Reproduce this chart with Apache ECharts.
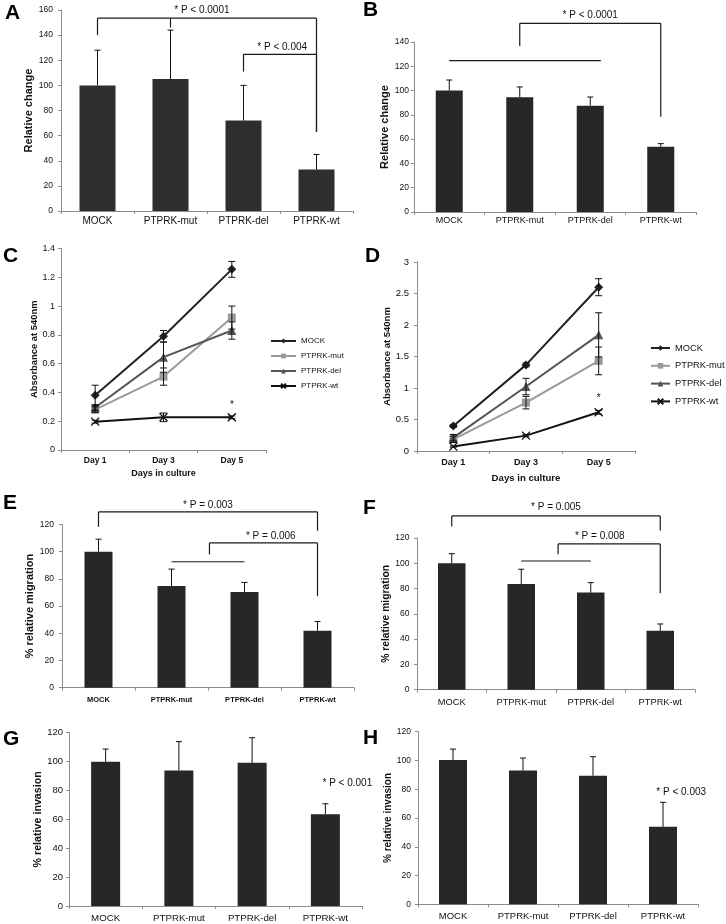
<!DOCTYPE html>
<html><head><meta charset="utf-8">
<script src="https://cdn.jsdelivr.net/npm/echarts@6/dist/echarts.min.js"></script>
<style>html,body{margin:0;padding:0;background:#fff}#c{width:726px;height:924px}</style>
</head><body><div id="c"></div>
<script>
// ---------- DATA ----------
const categories = ['MOCK', 'PTPRK-mut', 'PTPRK-del', 'PTPRK-wt'];
const days = ['Day 1', 'Day 3', 'Day 5'];
const lineNames = ['MOCK', 'PTPRK-mut', 'PTPRK-del', 'PTPRK-wt'];

// A
const aMean = [100, 105, 72, 33];
const aErr = [28, 39, 28, 12];
const aBrackets = [[0, 3, 153.5, 140, 63], [2, 3, 124.7, 111, 63]]; // x1, x2, top, leftEnd, rightEnd
const aTicks = [[1, 153.5, 146]];
const aLines = [];
const aNotes = [[1.43, 160, '* P < 0.0001'], [2.53, 130.6, '* P < 0.004']];
// B
const bMean = [100, 94.5, 87.6, 53.8];
const bErr = [8.7, 8.5, 7.1, 2.5];
const bBrackets = [[1, 3, 155.4, 136.7, 78.5]];
const bTicks = [];
const bLines = [[0, 2.15, 124.6]];
const bNotes = [[2, 162, '* P < 0.0001']];
// C
const cMock = [0.38, 0.79, 1.255], cMockErr = [0.07, 0.04, 0.055];
const cMut = [0.28, 0.51, 0.92], cMutErr = [0.02, 0.06, 0.08];
const cDel = [0.295, 0.645, 0.83], cDelErr = [0.02, 0.105, 0.06];
const cWt = [0.197, 0.227, 0.227], cWtErr = [0.01, 0.03, 0.01];
const cNotes = [[2, 0.31, '*']];
// D
const dMock = [0.397, 1.367, 2.6], dMockErr = [0.02, 0.03, 0.135];
const dMut = [0.185, 0.768, 1.43], dMutErr = [0.05, 0.1, 0.22];
const dDel = [0.212, 1.023, 1.844], dDelErr = [0.05, 0.13, 0.35];
const dWt = [0.07, 0.244, 0.615], dWtErr = [0.01, 0.02, 0.03];
const dNotes = [[2, 0.84, '*']];
// E
const eMean = [100, 74.7, 70.3, 41.9];
const eErr = [9.2, 12.5, 7.1, 6.8];
const eBrackets = [[0, 3, 129.3, 118.3, 115.4], [1.52, 3, 106.5, 98, 67.3]];
const eLines = [[1, 2, 92.6]];
const eNotes = [[1.5, 134.2, '* P = 0.003'], [2.36, 111.5, '* P = 0.006']];
// F
const fMean = [100, 83.6, 76.8, 46.7];
const fErr = [7.6, 11.7, 7.9, 5.3];
const fBrackets = [[0, 3, 137.5, 129, 125.9], [1.53, 3, 115.3, 107.1, 76.3]];
const fLines = [[1, 2, 101.8]];
const fNotes = [[1.5, 144, '* P = 0.005'], [2.13, 121.6, '* P = 0.008']];
// G
const gMean = [99.9, 93.9, 99.2, 63.5];
const gErr = [8.8, 19.9, 17.3, 7.3];
const gNotes = [[3.3, 85, '* P < 0.001']];
// H
const hMean = [100.3, 93.1, 89.4, 54];
const hErr = [7.6, 8.6, 13.2, 16.9];
const hNotes = [[3.26, 77.8, '* P < 0.003']];

// ---------- STYLE / LAYOUT ----------
const FF = 'Liberation Sans, Arial, sans-serif';
const AX = '#8c8c8c';
const TXT = '#111';
const BAR = '#272727';

const grids = [], xAxes = [], yAxes = [], series = [];

function xy(api, x, y) {
  const i = Math.floor(x);
  const p = api.coord([i, y]);
  return [p[0] + (x - i) * api.size([1, 0])[0], p[1]];
}
function ln(a, b, w, c) {
  return {type: 'line', shape: {x1: a[0], y1: a[1], x2: b[0], y2: b[1]}, style: {stroke: c || '#1a1a1a', lineWidth: w || 1.2}};
}

function addAxes(idx, L, o) {
  grids.push({left: L.left, top: L.top, width: L.width, height: L.height, outerBoundsMode: 'none', containLabel: false});
  xAxes.push({
    gridIndex: idx, type: 'category', data: o.cats,
    axisLine: {show: true, lineStyle: {color: AX, width: 1}},
    axisTick: {show: true, length: 3, lineStyle: {color: AX}},
    axisLabel: {interval: 0, fontSize: o.xfs, fontWeight: o.xfw || 'normal', margin: o.xm, color: TXT, fontFamily: FF},
    splitLine: {show: false},
    name: o.xname || '', nameLocation: 'middle', nameGap: o.xnameGap || 0,
    nameTextStyle: {fontSize: o.xnfs || 9, fontWeight: 'bold', color: TXT, fontFamily: FF}
  });
  yAxes.push({
    gridIndex: idx, type: 'value', min: 0, max: o.max, interval: o.interval,
    axisLine: {show: true, lineStyle: {color: AX, width: 1}},
    axisTick: {show: true, length: 3, lineStyle: {color: AX}},
    axisLabel: {fontSize: o.yfs, margin: o.ym, color: TXT, fontFamily: FF},
    splitLine: {show: false},
    name: o.yname, nameLocation: 'middle', nameRotate: 90, nameGap: o.ynameGap,
    nameTextStyle: {fontSize: o.ynfs, fontWeight: 'bold', color: TXT, fontFamily: FF}
  });
}

function addAnnotations(idx, brackets, ticks, lines, notes, noteFs) {
  series.push({
    type: 'custom', xAxisIndex: idx, yAxisIndex: idx, z: 5, silent: true,
    data: [[0, 0]],
    renderItem: function (params, api) {
      const ch = [];
      (brackets || []).forEach(function (b) {
        const tl = xy(api, b[0], b[2]), tr = xy(api, b[1], b[2]);
        ch.push(ln(xy(api, b[0], b[3]), tl));
        ch.push(ln(tl, tr));
        ch.push(ln(tr, xy(api, b[1], b[4])));
      });
      (ticks || []).forEach(function (t) {
        ch.push(ln(xy(api, t[0], t[1]), xy(api, t[0], t[2])));
      });
      (lines || []).forEach(function (l) {
        ch.push(ln(xy(api, l[0], l[2]), xy(api, l[1], l[2])));
      });
      (notes || []).forEach(function (n) {
        const p = xy(api, n[0], n[1]);
        ch.push({type: 'text', x: p[0], y: p[1], style: {text: n[2], fill: TXT, fontSize: noteFs, fontFamily: FF, align: 'center', verticalAlign: 'middle'}});
      });
      return {type: 'group', children: ch};
    }
  });
}

function addBarPanel(idx, L, means, errs, o) {
  addAxes(idx, L, Object.assign({cats: categories}, o));
  series.push({
    type: 'bar', xAxisIndex: idx, yAxisIndex: idx, data: means, barWidth: o.barWidth,
    itemStyle: {color: o.barColor || BAR}, silent: true
  });
  series.push({
    type: 'custom', xAxisIndex: idx, yAxisIndex: idx, z: 4, silent: true,
    data: means.map(function (m, i) { return [i, m, m + errs[i]]; }),
    renderItem: function (params, api) {
      const a = api.coord([api.value(0), api.value(1)]);
      const b = api.coord([api.value(0), api.value(2)]);
      return {type: 'group', children: [
        ln(a, b, 1, '#111'),
        ln([b[0] - 3, b[1]], [b[0] + 3, b[1]], 1, '#111')
      ]};
    }
  });
  addAnnotations(idx, o.brackets, o.ticks, o.lines, o.notes, o.noteFs || 10);
}

const lineStyles = [
  {color: '#222', symbol: 'diamond', size: 9},
  {color: '#9a9a9a', symbol: 'rect', size: 8},
  {color: '#555', symbol: 'triangle', size: 9},
  {color: '#111', symbol: 'path://M0,0L10,10M10,0L0,10', size: 8}
];

function addLinePanel(idx, L, vals, errs, o) {
  addAxes(idx, L, Object.assign({cats: days}, o));
  vals.forEach(function (v, s) {
    const st = lineStyles[s];
    series.push({
      type: 'line', name: lineNames[s], xAxisIndex: idx, yAxisIndex: idx, data: v,
      symbol: st.symbol, symbolSize: st.size, showSymbol: true, silent: true,
      lineStyle: {color: st.color, width: 2},
      itemStyle: {color: st.color, borderColor: st.color, borderWidth: s === 3 ? 1.3 : 0},
      z: 3 + (s === 1 ? 0 : 1)
    });
  });
  const pts = [];
  vals.forEach(function (v, s) { v.forEach(function (m, i) { pts.push([i, m - errs[s][i], m + errs[s][i]]); }); });
  series.push({
    type: 'custom', xAxisIndex: idx, yAxisIndex: idx, z: 6, silent: true,
    data: pts,
    renderItem: function (params, api) {
      const a = api.coord([api.value(0), api.value(1)]);
      const b = api.coord([api.value(0), api.value(2)]);
      return {type: 'group', children: [
        ln(a, b, 1, '#111'),
        ln([a[0] - 3.5, a[1]], [a[0] + 3.5, a[1]], 1, '#111'),
        ln([b[0] - 3.5, b[1]], [b[0] + 3.5, b[1]], 1, '#111')
      ]};
    }
  });
  addAnnotations(idx, [], [], [], o.notes, 10);
}

addBarPanel(0, {left: 61, top: 10, width: 292, height: 201}, aMean, aErr, {
  max: 160, interval: 20, xfs: 10, xm: 5, yfs: 8.5, ym: 8, yname: 'Relative change', ynfs: 11, ynameGap: 25,
  barWidth: 36, barColor: '#2e2e2e', brackets: aBrackets, ticks: aTicks, lines: aLines, notes: aNotes});
addBarPanel(1, {left: 414, top: 42, width: 282, height: 170}, bMean, bErr, {
  max: 140, interval: 20, xfs: 9, xm: 4, yfs: 8.5, ym: 5, yname: 'Relative change', ynfs: 11, ynameGap: 20,
  barWidth: 27, brackets: bBrackets, ticks: bTicks, lines: bLines, notes: bNotes});
addLinePanel(2, {left: 61, top: 248.5, width: 205, height: 201.5}, [cMock, cMut, cDel, cWt], [cMockErr, cMutErr, cDelErr, cWtErr], {
  max: 1.4, interval: 0.2, xfs: 8.5, xfw: 'bold', xm: 6, yfs: 9, ym: 6, yname: 'Absorbance at 540nm', ynfs: 9.4, ynameGap: 22,
  xname: 'Days in culture', xnameGap: 19, xnfs: 9, notes: cNotes});
addLinePanel(3, {left: 417, top: 262, width: 218, height: 189}, [dMock, dMut, dDel, dWt], [dMockErr, dMutErr, dDelErr, dWtErr], {
  max: 3, interval: 0.5, xfs: 9, xfw: 'bold', xm: 7, yfs: 9.5, ym: 8, yname: 'Absorbance at 540nm', ynfs: 9.5, ynameGap: 15,
  xname: 'Days in culture', xnameGap: 22, xnfs: 9.6, notes: dNotes});
addBarPanel(4, {left: 62, top: 524.5, width: 292, height: 163.2}, eMean, eErr, {
  max: 120, interval: 20, xfs: 7.5, xfw: 'bold', xm: 8, yfs: 8.5, ym: 8, yname: '% relative migration', ynfs: 11, ynameGap: 24,
  barWidth: 28, brackets: eBrackets, lines: eLines, notes: eNotes});
addBarPanel(5, {left: 417, top: 538, width: 278, height: 151.7}, fMean, fErr, {
  max: 120, interval: 20, xfs: 9.3, xm: 8, yfs: 8.5, ym: 7.5, yname: '% relative migration', ynfs: 10.3, ynameGap: 25,
  barWidth: 27.5, brackets: fBrackets, lines: fLines, notes: fNotes});
addBarPanel(6, {left: 69, top: 732.7, width: 293, height: 173.3}, gMean, gErr, {
  max: 120, interval: 20, xfs: 9.7, xm: 7, yfs: 9.5, ym: 6, yname: '% relative invasion', ynfs: 10.7, ynameGap: 24,
  barWidth: 29, notes: gNotes});
addBarPanel(7, {left: 418, top: 731.7, width: 280, height: 172.6}, hMean, hErr, {
  max: 120, interval: 20, xfs: 9.5, xm: 7, yfs: 8.5, ym: 7, yname: '% relative invasion', ynfs: 10, ynameGap: 25,
  barWidth: 28, notes: hNotes});

const letters = [['A', 5, 3], ['B', 363, 0], ['C', 3, 246], ['D', 365, 246], ['E', 3, 493], ['F', 363, 498], ['G', 3, 729], ['H', 363, 728]];

const chart = echarts.init(document.getElementById('c'), null, {renderer: 'canvas'});
chart.setOption({
  animation: false,
  backgroundColor: '#fff',
  title: letters.map(function (l) {
    return {text: l[0], left: l[1], top: l[2], padding: 0, textStyle: {fontSize: 21, fontWeight: 'bold', color: '#000', fontFamily: FF}};
  }),
  legend: [
    {data: lineNames, orient: 'vertical', left: 270, top: 336, padding: 0, itemWidth: 25, itemHeight: 6, itemGap: 5,
      selectedMode: false, textStyle: {fontSize: 8, lineHeight: 10, color: TXT, fontFamily: FF}},
    {data: lineNames, orient: 'vertical', left: 650, top: 342, padding: 0, itemWidth: 19, itemHeight: 7, itemGap: 5.8,
      selectedMode: false, textStyle: {fontSize: 9.3, lineHeight: 12, color: TXT, fontFamily: FF}}
  ],
  grid: grids,
  xAxis: xAxes,
  yAxis: yAxes,
  series: series
});
</script>
</body></html>
